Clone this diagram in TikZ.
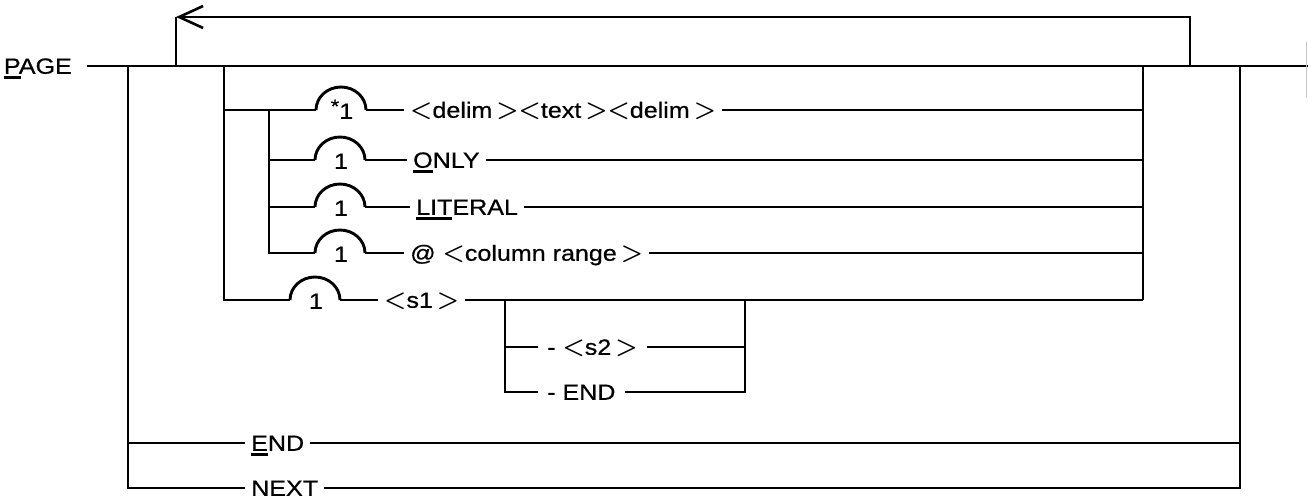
\documentclass[tikz,border=0pt]{standalone}
\usepackage{fontspec}
\setmainfont[FakeStretch=1.14,FakeBold=0.6]{Liberation Sans}
\usetikzlibrary{arrows.meta}
\newcommand\lt{{\fontsize{34}{34}\selectfont\boldmath$<$}}
\newcommand\gt{{\fontsize{34}{34}\selectfont\boldmath$>$}}
\newcommand\ulet[1]{\setbox0\hbox{#1}\rlap{\rule[-5pt]{\wd0}{2.6pt}}#1}
\newcommand\bump[4]{%
  \coordinate (#1l) at (#2,#3);
  \coordinate (#1r) at ({#2+50},#3);
  \draw[rr] (#1l) .. controls +(0,-12.7) and +(-13.8,0) .. ({#2+25},{#3-23})
     .. controls +(13.8,0) and +(0,-12.7) .. (#1r);
  \node[lbl] (#1) at ({#2+26},{#3+1}) {#4};}
\begin{document}
\begin{tikzpicture}[x=1pt,y=-1pt,
  rr/.style={line width=2.9pt,line join=miter},
  txt/.style={inner xsep=6pt,inner ysep=0pt,text height=15.5pt,text depth=0pt,
    font=\fontsize{22}{22}\selectfont,anchor=west},
  lbl/.style={inner sep=0pt,text height=15.5pt,text depth=0pt,
    font=\fontsize{22}{22}\selectfont}]
\useasboundingbox (0,0) rectangle (1308,498);
% main line
\node[txt,anchor=east,inner xsep=15pt] (page) at (87,66) {\ulet{P}AGE};
\coordinate (mainend) at (1308,66);
\draw[rr] (page.east) -- (mainend);
\draw[gray!45,line width=1pt] (1306,42) -- (1306,98);
% junctions on main line
\coordinate (j128) at (128,66);
\coordinate (j176) at (176,66);
\coordinate (j224) at (224,66);
\coordinate (j1143) at (1143,66);
\coordinate (j1190) at (1190,66);
\coordinate (j1240) at (1240,66);
% repeat loop
\coordinate (lp) at (176,17);
\draw[rr,-{Straight Barb[length=24pt,width=22pt,line width=2.6pt]}] (j1190) |- (lp);
\draw[rr] (lp) -- (j176);
% row 1: *1 <delim><text><delim>
\coordinate (a224) at (224,110);
\bump{b1}{316}{110}{\raisebox{6pt}{\fontsize{19}{19}\selectfont*}1}
\node[txt] (t1) at (404,110) {\lt delim\kern4pt\gt\lt text\kern4pt\gt\lt delim\kern4pt\gt};
\coordinate (r1) at (1143,110);
\draw[rr] (a224) -- (b1l);
\draw[rr] (b1r) -- (t1.west);
\draw[rr] (t1.east) -- (r1);
% row 2: ONLY
\coordinate (a269o) at (269,160);
\bump{b2}{315}{160}{1}
\node[txt] (t2) at (407,160) {\ulet{O}NLY};
\coordinate (r2) at (1143,160);
\draw[rr] (a269o) -- (b2l);
\draw[rr] (b2r) -- (t2.west);
\draw[rr] (t2.east) -- (r2);
% row 3: LITERAL
\coordinate (a269l) at (269,207);
\bump{b3}{315}{207}{1}
\node[txt] (t3) at (410,207) {\ulet{LIT}ERAL};
\coordinate (r3) at (1143,207);
\draw[rr] (a269l) -- (b3l);
\draw[rr] (b3r) -- (t3.west);
\draw[rr] (t3.east) -- (r3);
% row 4: @ <column range>
\coordinate (a269) at (269,110);
\bump{b4}{315}{253}{1}
\node[txt] (t4) at (404,253) {@ \lt column range\kern4pt\gt};
\coordinate (r4) at (1143,253);
\draw[rr] (a269) |- (b4l);
\draw[rr] (b4r) -- (t4.west);
\draw[rr] (t4.east) -- (r4);
% row 5: <s1>
\bump{b5}{290}{300}{1}
\node[txt] (t5) at (378,300) {\lt s1\kern4pt\gt};
\coordinate (r5) at (1143,300);
\draw[rr] (j224) |- (b5l);
\draw[rr] (b5r) -- (t5.west);
\draw[rr] (t5.east) -- (r5);
\draw[rr] (j1143) -- (r5);
% sub loop
\coordinate (s505) at (505,300);
\coordinate (s745) at (745,300);
\node[txt,inner xsep=9pt] (t6) at (538,347) {- \lt s2\kern4pt\gt};
\node[txt,inner xsep=9pt] (t7) at (538,392) {- END};
\draw[rr] (s505) |- (t7.west);
\draw[rr] (s745) |- (t7.east);
\coordinate (s6l) at (505,347);
\coordinate (s6r) at (745,347);
\draw[rr] (s6l) -- (t6.west);
\draw[rr] (t6.east) -- (s6r);
% END and NEXT
\node[txt] (t8) at (245,443) {\ulet{E}ND};
\node[txt] (t9) at (245,488) {NEXT};
\coordinate (e128) at (128,443);
\coordinate (e1240) at (1240,443);
\draw[rr] (j128) |- (t9.west);
\draw[rr] (e128) -- (t8.west);
\draw[rr] (t8.east) -- (e1240);
\draw[rr] (j1240) |- (t9.east);
\end{tikzpicture}
\end{document}
